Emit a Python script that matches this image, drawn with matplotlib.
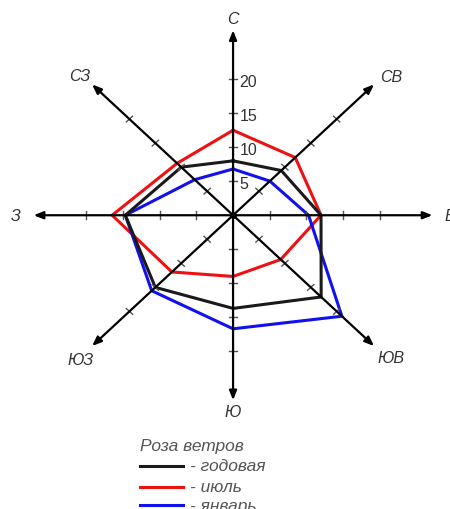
import numpy as np
import matplotlib
matplotlib.use('Agg')
import matplotlib.pyplot as plt

plt.rcParams['font.family'] = ['Liberation Sans', 'DejaVu Sans']

# wind directions, clockwise from north
directions = ['С', 'СВ', 'В', 'ЮВ', 'Ю', 'ЮЗ', 'З', 'СЗ']
angles = np.deg2rad([0, 45, 90, 135, 180, 225, 270, 315])

# repeat frequency per direction, %
annual = [8.0, 9.3, 12.0, 17.0, 13.7, 15.0, 14.7, 10.0]
july = [12.5, 12.0, 12.0, 9.2, 9.0, 11.8, 16.5, 10.8]
january = [6.8, 7.1, 10.3, 21.0, 16.7, 15.7, 14.7, 7.4]

scale_ticks = [5, 10, 15, 20]
series_names = ['- годовая', '- июль', '- январь']
series_colors = ['#1a1a1a', '#ee1111', '#1111ee']

axis_len = 27.2

fig = plt.figure(figsize=(4.5, 5.1), dpi=100)
ax = fig.add_axes([0, 0, 1, 1])
ax.set_xlim(-31.8, 29.6)
ax.set_ylim(-43.2, 31.8)
ax.axis('off')

# rose polygons
for vals, col in zip([july, january, annual], [series_colors[1], series_colors[2], series_colors[0]]):
    r = np.array(vals + vals[:1])
    a = np.concatenate([angles, angles[:1]])
    ax.plot(r * np.sin(a), r * np.cos(a), color=col, lw=2.2, zorder=3, solid_joinstyle='miter')

# axes with arrows
for ang in angles:
    dx, dy = np.sin(ang), np.cos(ang)
    ax.annotate('', xy=(axis_len * dx, axis_len * dy), xytext=(0, 0),
                arrowprops=dict(arrowstyle='-|>,head_length=0.55,head_width=0.22',
                                color='black', lw=1.6, shrinkA=0, shrinkB=0),
                zorder=5)
    # tick marks across the axis
    px, py = dy, -dx
    for t in scale_ticks:
        cx, cy = t * dx, t * dy
        ax.plot([cx - 0.6 * px, cx + 0.6 * px], [cy - 0.6 * py, cy + 0.6 * py],
                color='#555555', lw=1.0, zorder=4)

ax.plot(0, 0, 'o', color='black', ms=4, zorder=6)

# scale numbers on the north axis
for t in scale_ticks:
    ax.text(0.9, t - 0.4, str(t), fontsize=11.5, color='#333333',
            ha='left', va='center', zorder=6)

# direction labels
label_pos = {
    'С': (0, 29.0), 'СВ': (21.6, 20.4), 'В': (29.6, 0), 'ЮВ': (21.6, -20.9),
    'Ю': (0, -28.8), 'ЮЗ': (-20.8, -21.2), 'З': (-29.6, 0), 'СЗ': (-20.9, 20.6),
}
for d in directions:
    x, y = label_pos[d]
    ax.text(x, y, d, fontsize=11.5, style='italic', color='#333333',
            ha='center', va='center', clip_on=False)

# legend drawn by hand, figure fraction coords
W, H = 450, 510
fig.text(140 / W, 1 - 447 / H, 'Роза ветров', fontsize=12.5, style='italic',
         color='#555555', ha='left', va='center')
for name, col, yy in zip(series_names, series_colors, [466.7, 487.7, 506.0]):
    fig.add_artist(plt.Line2D([140 / W, 183 / W], [1 - yy / H, 1 - yy / H],
                              color=col, lw=2.2))
    fig.text(190 / W, 1 - yy / H, name, fontsize=12.5, style='italic',
             color='#555555', ha='left', va='center')

fig.savefig('out.png', dpi=100, facecolor='white')
